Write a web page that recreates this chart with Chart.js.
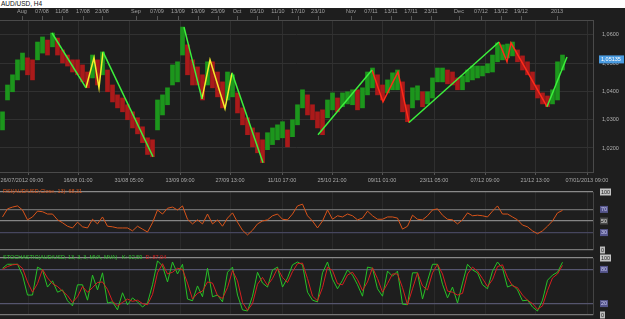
<!DOCTYPE html>
<html>
<head>
<meta charset="utf-8">
<script src="https://cdn.jsdelivr.net/npm/chart.js@4.4.0/dist/chart.umd.min.js"></script>
<style>
  body { margin: 0; width: 625px; height: 319px; overflow: hidden; position: relative; background: #1e1e1e; font-family: "Liberation Sans", Arial, sans-serif; }
  #head { position: absolute; left: 0; top: 0; width: 625px; height: 8px; background: #fff; }
  #head span { position: absolute; left: 1px; top: 0; font-size: 6.5px; line-height: 8px; color: #111; }
  canvas { position: absolute; left: 0; }
  .ttl { position: absolute; left: 3px; font-size: 5.5px; line-height: 6px; white-space: pre; z-index: 2; }
</style>
</head>
<body>
<div id="head"><span>AUD/USD, H4</span></div>
<canvas id="main" width="625" height="178" style="top:8px"></canvas>
<canvas id="rsi" width="625" height="68" style="top:186px"></canvas>
<canvas id="stoch" width="625" height="67" style="top:252px"></canvas>
<div class="ttl" style="top:188px;color:#d9541a">RSI(AUD/USD,Close, 13): 68,31</div>
<div class="ttl" style="top:254px;color:#2fc02f">STOCHASTIC(AUD/USD, 13, 3, 3, MVA, MVA)   K: 92,59  <span style="color:#d42020">D: 87,04</span></div>
<script>
// one bar per trading day (approx)
const highs = [1.0328,1.0423,1.0459,1.0512,1.0536,1.0519,1.0512,1.0575,1.0593,1.0582,
  1.0607,1.0589,1.0547,1.0529,1.0512,1.0512,1.0494,1.0469,1.0529,1.0512,
  1.0540,1.0476,1.0423,1.0388,1.0377,1.0353,1.0328,1.0307,1.0275,1.0236,
  1.0229,1.0370,1.0388,1.0413,1.0494,1.0505,1.0628,1.0565,1.0512,1.0487,
  1.0459,1.0505,1.0505,1.0469,1.0434,1.0469,1.0459,1.0395,1.0342,1.0307,
  1.0271,1.0254,1.0229,1.0254,1.0271,1.0282,1.0293,1.0264,1.0300,1.0353,
  1.0406,1.0388,1.0353,1.0328,1.0335,1.0370,1.0395,1.0377,1.0395,1.0399,
  1.0406,1.0406,1.0413,1.0469,1.0483,1.0459,1.0423,1.0441,1.0466,1.0476,
  1.0434,1.0353,1.0413,1.0420,1.0399,1.0399,1.0448,1.0483,1.0483,1.0476,
  1.0469,1.0448,1.0455,1.0476,1.0490,1.0490,1.0490,1.0498,1.0529,1.0572,
  1.0565,1.0568,1.0575,1.0547,1.0526,1.0505,1.0469,1.0423,1.0395,1.0384,
  1.0406,1.0505,1.0529];
const lows = [1.0264,1.0370,1.0399,1.0441,1.0476,1.0459,1.0441,1.0512,1.0536,1.0529,
  1.0558,1.0529,1.0501,1.0490,1.0469,1.0459,1.0434,1.0413,1.0448,1.0423,
  1.0459,1.0399,1.0363,1.0342,1.0328,1.0300,1.0271,1.0250,1.0219,1.0177,
  1.0169,1.0264,1.0317,1.0353,1.0423,1.0434,1.0529,1.0459,1.0423,1.0423,
  1.0370,1.0423,1.0413,1.0381,1.0342,1.0370,1.0381,1.0324,1.0282,1.0247,
  1.0204,1.0183,1.0148,1.0194,1.0212,1.0229,1.0236,1.0204,1.0240,1.0282,
  1.0342,1.0317,1.0300,1.0271,1.0247,1.0307,1.0335,1.0328,1.0346,1.0356,
  1.0353,1.0335,1.0342,1.0388,1.0413,1.0388,1.0370,1.0395,1.0406,1.0406,
  1.0328,1.0293,1.0342,1.0370,1.0346,1.0356,1.0377,1.0434,1.0434,1.0427,
  1.0423,1.0406,1.0406,1.0434,1.0441,1.0448,1.0455,1.0466,1.0469,1.0505,
  1.0512,1.0519,1.0526,1.0505,1.0476,1.0459,1.0406,1.0377,1.0356,1.0346,
  1.0356,1.0370,1.0476];
const lastPrice = 1.05135;

// hand drawn trend lines: [bar, price]
const greenLegs = [
  [[9.9, 1.0607], [16.7, 1.0413]],
  [[20.1, 1.0540], [30.1, 1.0169]],
  [[36.3, 1.0628], [39.9, 1.0374]],
  [[45.9, 1.0466], [52.1, 1.0148]],
  [[63.1, 1.0247], [73.9, 1.0476]],
  [[81.3, 1.0290], [99.3, 1.0575]],
  [[108.9, 1.0346], [112.9, 1.0522]]
];
const yellowLegs = [
  [[16.7, 1.0413], [18.3, 1.0519], [19.3, 1.0413], [20.1, 1.0540]],
  [[39.9, 1.0374], [41.5, 1.0512], [44.5, 1.0339], [45.9, 1.0466]]
];
const redLegs = [
  [[73.9, 1.0476], [76.1, 1.0363], [79.1, 1.0469], [81.3, 1.0290]],
  [[99.3, 1.0575], [100.9, 1.0505], [101.7, 1.0572], [108.9, 1.0346]]
];

const rsi = [57,71,74,76,69,52,57,67,66,62,
  62,52,47,41,38,48,40,38,53,45,
  57,41,40,38,38,38,33,41,36,31,
  47,69,62,72,74,69,76,53,45,52,
  45,62,45,52,41,55,64,48,34,26,
  34,45,50,52,59,62,53,52,62,76,
  79,59,50,38,50,69,53,59,57,62,
  59,52,55,67,59,53,53,57,57,55,
  36,41,60,53,52,59,69,71,60,53,
  52,45,52,64,59,60,59,57,67,76,
  62,62,57,52,43,40,33,28,33,41,
  50,64,68.31];
const stochK = [82,89,89,89,70,35,35,84,79,49,
  60,40,44,25,16,53,53,26,70,44,
  74,21,23,9,39,18,30,23,14,21,
  53,95,86,58,93,72,89,28,25,51,
  32,82,32,35,23,75,84,35,9,7,
  33,75,56,49,79,84,49,65,88,93,
  88,40,26,23,74,93,63,46,61,79,
  70,53,33,84,82,46,33,77,68,77,
  19,18,74,74,28,60,89,89,54,30,
  49,21,56,89,79,74,53,46,77,93,
  82,49,53,44,25,26,14,7,26,61,
  70,75,92.59];
const stochD = [80,85,88,89,82,58,40,55,80,65,
  55,50,42,34,22,32,50,40,48,57,
  58,45,24,16,22,28,24,26,20,18,
  36,74,90,72,75,82,80,56,28,38,
  42,58,56,34,29,48,78,60,22,8,
  20,54,66,52,64,82,66,57,76,90,
  91,64,33,25,48,84,78,55,53,70,
  75,62,43,58,83,64,40,55,72,72,
  48,18,46,74,51,44,74,89,72,42,
  40,35,38,72,84,77,64,50,62,85,
  88,66,51,48,35,26,20,10,16,43,
  65,72,87.04];

// time axis labels and the bar they sit on
const dateLabels = ['26/07/2012 09:00','16/08 01:00','31/08 05:00','13/09 09:00','27/09 13:00','11/10 17:00',
  '25/10 21:00','09/11 01:00','23/11 05:00','07/12 09:00','21/12 13:00','07/01/2013 09:00'];
const dateBars = [5.1, 15.1, 25.3, 35.5, 45.5, 55.9, 65.9, 75.9, 86.3, 96.5, 106.5, 116.9];
const topLabels = ['Aug','07/08','11/08','17/08','23/08','Sep','07/09','13/09','19/09','25/09','Oct','05/10','11/10',
  '17/10','23/10','Nov','07/11','13/11','17/11','23/11','Dec','07/12','13/12','19/12','2013'];
const topBars = [3.9, 7.9, 11.9, 16.1, 19.9, 26.7, 30.9, 35.1, 39.1, 43.1, 46.9, 50.9, 55.1,
  59.1, 63.1, 69.7, 73.7, 77.7, 81.7, 85.7, 91.3, 95.7, 99.7, 103.7, 110.9];
const priceTicks = [1.02, 1.03, 1.04, 1.05, 1.06];
const rsiLevels = [0, 30, 50, 70, 100];
const stochLevels = [0, 20, 80, 100];

const xMin = -0.5, xMax = 118.1;
const fmt = v => v.toFixed(4).replace('.', ',');

Chart.defaults.font.family = '"Liberation Sans", Arial, sans-serif';
Chart.defaults.font.size = 5.5;
Chart.defaults.color = '#b8b8b8';
Chart.defaults.animation = false;
Chart.defaults.responsive = false;
Chart.defaults.plugins.legend.display = false;
Chart.defaults.plugins.tooltip.enabled = false;

const mid = i => (highs[i] + lows[i]) / 2;
const barColors = highs.map((h, i) => (i === 0 || mid(i) >= mid(i - 1)) ? '#1c961c' : '#aa1a1a');

function legSets(legs, color) {
  return legs.map(leg => ({
    type: 'line',
    data: leg.map(p => ({ x: p[0], y: p[1] })),
    borderColor: color,
    borderWidth: 1.5,
    pointRadius: 0,
    order: 0
  }));
}

const noPad = s => { s.paddingLeft = 0; s.paddingRight = 0; s.paddingTop = 0; s.paddingBottom = 0; };

// blue box with the last price on the right axis
const priceTag = {
  id: 'priceTag',
  afterDraw(chart) {
    const s = chart.scales.y, ctx = chart.ctx;
    const y = s.getPixelForValue(lastPrice);
    ctx.save();
    ctx.fillStyle = '#4a9be0';
    ctx.fillRect(s.left + 6, y - 4, 25, 8);
    ctx.fillStyle = '#ffffff';
    ctx.font = '5.5px "Liberation Sans", Arial';
    ctx.textBaseline = 'middle';
    ctx.fillText(lastPrice.toFixed(5).replace('.', ','), s.left + 8, y + 0.5);
    ctx.restore();
  }
};

// coloured boxes behind the level labels of the indicator panes
const levelBoxes = {
  id: 'levelBoxes',
  beforeDraw(chart, args, opts) {
    const s = chart.scales.y, ctx = chart.ctx;
    ctx.save();
    s.ticks.forEach(t => {
      const c = opts.colors[t.value];
      if (!c) return;
      const y = s.getPixelForValue(t.value);
      ctx.fillStyle = c;
      ctx.fillRect(s.left + 7, y - 3.5, t.value === 100 ? 11 : (t.value === 0 ? 5 : 8), 7);
    });
    ctx.restore();
  }
};

new Chart(document.getElementById('main'), {
  data: {
    datasets: [
      {
        type: 'bar',
        data: highs.map((h, i) => ({ x: i, y: [lows[i], h] })),
        backgroundColor: barColors,
        barThickness: 4,
        order: 1
      },
      ...legSets(greenLegs, '#3cf03c'),
      ...legSets(yellowLegs, '#f4ee2c'),
      ...legSets(redLegs, '#ff2a1a')
    ]
  },
  options: {
    layout: { padding: 0 },
    scales: {
      x: {
        type: 'linear', position: 'bottom', min: xMin, max: xMax, offset: false,
        afterBuildTicks: s => { s.ticks = dateBars.map(v => ({ value: v })); },
        // the first label sits a bit left of its grid line, as in the platform
        ticks: { callback: (v, i) => i === 0 ? dateLabels[i] + '        ' : dateLabels[i], autoSkip: false, maxRotation: 0, padding: 2, color: '#a8a8a8' },
        grid: { offset: false, color: '#2f2f2f', tickLength: 3, tickColor: '#555' },
        border: { color: '#4a4a4a' },
        afterFit: s => { s.height = 14; noPad(s); }
      },
      xTop: {
        axis: 'x', type: 'linear', position: 'top', min: xMin, max: xMax, offset: false,
        afterBuildTicks: s => { s.ticks = topBars.map(v => ({ value: v })); },
        ticks: { callback: (v, i) => topLabels[i], autoSkip: false, maxRotation: 0, padding: 1, color: '#a0a0a0' },
        grid: { offset: false, drawOnChartArea: false, tickLength: 4, tickColor: '#555' },
        border: { color: '#4a4a4a' },
        afterFit: s => { s.height = 12; noPad(s); }
      },
      y: {
        position: 'right', min: 1.0115, max: 1.0653,
        afterBuildTicks: s => { s.ticks = priceTicks.map(v => ({ value: v })); },
        ticks: { callback: v => fmt(v), padding: 9, color: '#b0b0b0' },
        grid: { color: '#313131', drawTicks: false },
        border: { color: '#4a4a4a' },
        afterFit: s => { s.width = 32; noPad(s); }
      }
    }
  },
  plugins: [priceTag]
});

function paneX() {
  return {
    type: 'linear', min: xMin, max: xMax, offset: false,
    afterBuildTicks: s => { s.ticks = dateBars.map(v => ({ value: v })); },
    ticks: { display: false },
    grid: { offset: false, color: '#2a2a2a', drawTicks: false },
    border: { display: false },
    afterFit: s => { s.height = 0; noPad(s); }
  };
}

function paneY(levels, lineColors, labelColors) {
  return {
    position: 'right', min: 0, max: 100,
    afterBuildTicks: s => { s.ticks = levels.map(v => ({ value: v })); },
    ticks: { padding: 8, color: ctx => labelColors[ctx.tick.value] },
    grid: { color: ctx => lineColors[ctx.tick.value], drawTicks: false, lineWidth: 1.2 },
    border: { color: '#444' },
    afterFit: s => { s.width = 32; noPad(s); }
  };
}

new Chart(document.getElementById('rsi'), {
  type: 'line',
  data: {
    datasets: [{
      data: rsi.map((v, i) => ({ x: i, y: v })),
      borderColor: '#d9541a', borderWidth: 1, pointRadius: 0
    }]
  },
  options: {
    layout: { padding: { top: 6, bottom: 4 } },
    scales: {
      x: paneX(),
      y: paneY(rsiLevels,
        { 0: '#777', 30: '#46465e', 50: '#858585', 70: '#6c6c6c', 100: '#8a8a8a' },
        { 0: '#222', 30: '#c8c8ee', 50: '#e0e0e0', 70: '#c8c8ee', 100: '#222' })
    },
    plugins: { levelBoxes: { colors: { 0: '#bcbcbc', 30: '#55558c', 50: '#4a4a4a', 70: '#55558c', 100: '#c4c4c4' } } }
  },
  plugins: [levelBoxes]
});

new Chart(document.getElementById('stoch'), {
  type: 'line',
  data: {
    datasets: [
      { data: stochD.map((v, i) => ({ x: i, y: v })), borderColor: '#d42020', borderWidth: 1, pointRadius: 0 },
      { data: stochK.map((v, i) => ({ x: i, y: v })), borderColor: '#27c227', borderWidth: 1, pointRadius: 0 }
    ]
  },
  options: {
    layout: { padding: { top: 6, bottom: 4 } },
    scales: {
      x: paneX(),
      y: paneY(stochLevels,
        { 0: '#777', 20: '#55556e', 80: '#55556e', 100: '#8a8a8a' },
        { 0: '#222', 20: '#c8c8ee', 80: '#c8c8ee', 100: '#222' })
    },
    plugins: { levelBoxes: { colors: { 0: '#bcbcbc', 20: '#55558c', 80: '#55558c', 100: '#c4c4c4' } } }
  },
  plugins: [levelBoxes]
});
</script>
</body>
</html>
